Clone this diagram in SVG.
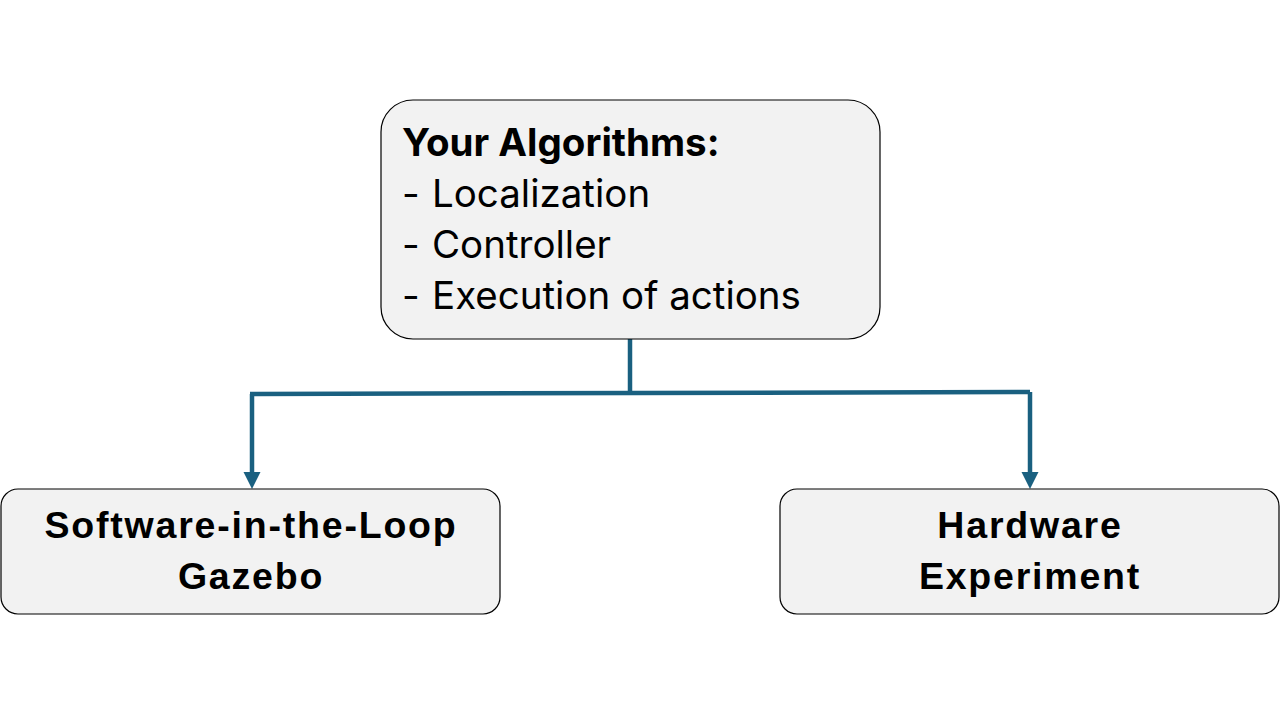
<svg xmlns="http://www.w3.org/2000/svg" width="1280" height="720" viewBox="0 0 1280 720">
<defs>
<style>
.box{fill:#f2f2f2;stroke:#000;stroke-width:1.2}
.t{font-family:Inter,"Noto Sans",sans-serif;font-size:38.5px;fill:#000}
.b{font-weight:bold}
.h{font-family:"Liberation Sans",Arial,sans-serif;font-weight:bold;font-size:37.5px;letter-spacing:1.8px;fill:#000;text-anchor:middle}
.c{fill:none;stroke:#1a6080;stroke-width:4.5}
.a{fill:#1a6080}
</style>
</defs>
<rect width="1280" height="720" fill="#fff"/>
<g id="connectors">
<path class="c" d="M630,339 V393"/>
<path class="c" d="M250,394 L1030,392"/>
<path class="c" d="M252,394 V474"/>
<path class="c" d="M1030,392 V474"/>
<polygon class="a" points="243.5,472 260.5,472 252,489"/>
<polygon class="a" points="1021.5,472 1038.5,472 1030,489"/>
</g>
<g id="algorithms">
<rect class="box" x="381" y="100" width="499" height="239" rx="32"/>
<text class="t b" x="402" y="156">Your Algorithms:</text>
<text class="t" x="402" y="207">-</text><text class="t" x="432" y="207">Localization</text>
<text class="t" x="402" y="258">-</text><text class="t" x="432" y="258">Controller</text>
<text class="t" x="402" y="309">-</text><text class="t" x="432" y="309">Execution of actions</text>
</g>
<g id="sitl">
<rect class="box" x="1" y="489" width="499" height="125" rx="17"/>
<text class="h" x="251" y="538">Software-in-the-Loop</text>
<text class="h" x="251" y="589">Gazebo</text>
</g>
<g id="hardware">
<rect class="box" x="780" y="489" width="499" height="125" rx="17"/>
<text class="h" x="1030" y="538">Hardware</text>
<text class="h" x="1030" y="589">Experiment</text>
</g>
</svg>
